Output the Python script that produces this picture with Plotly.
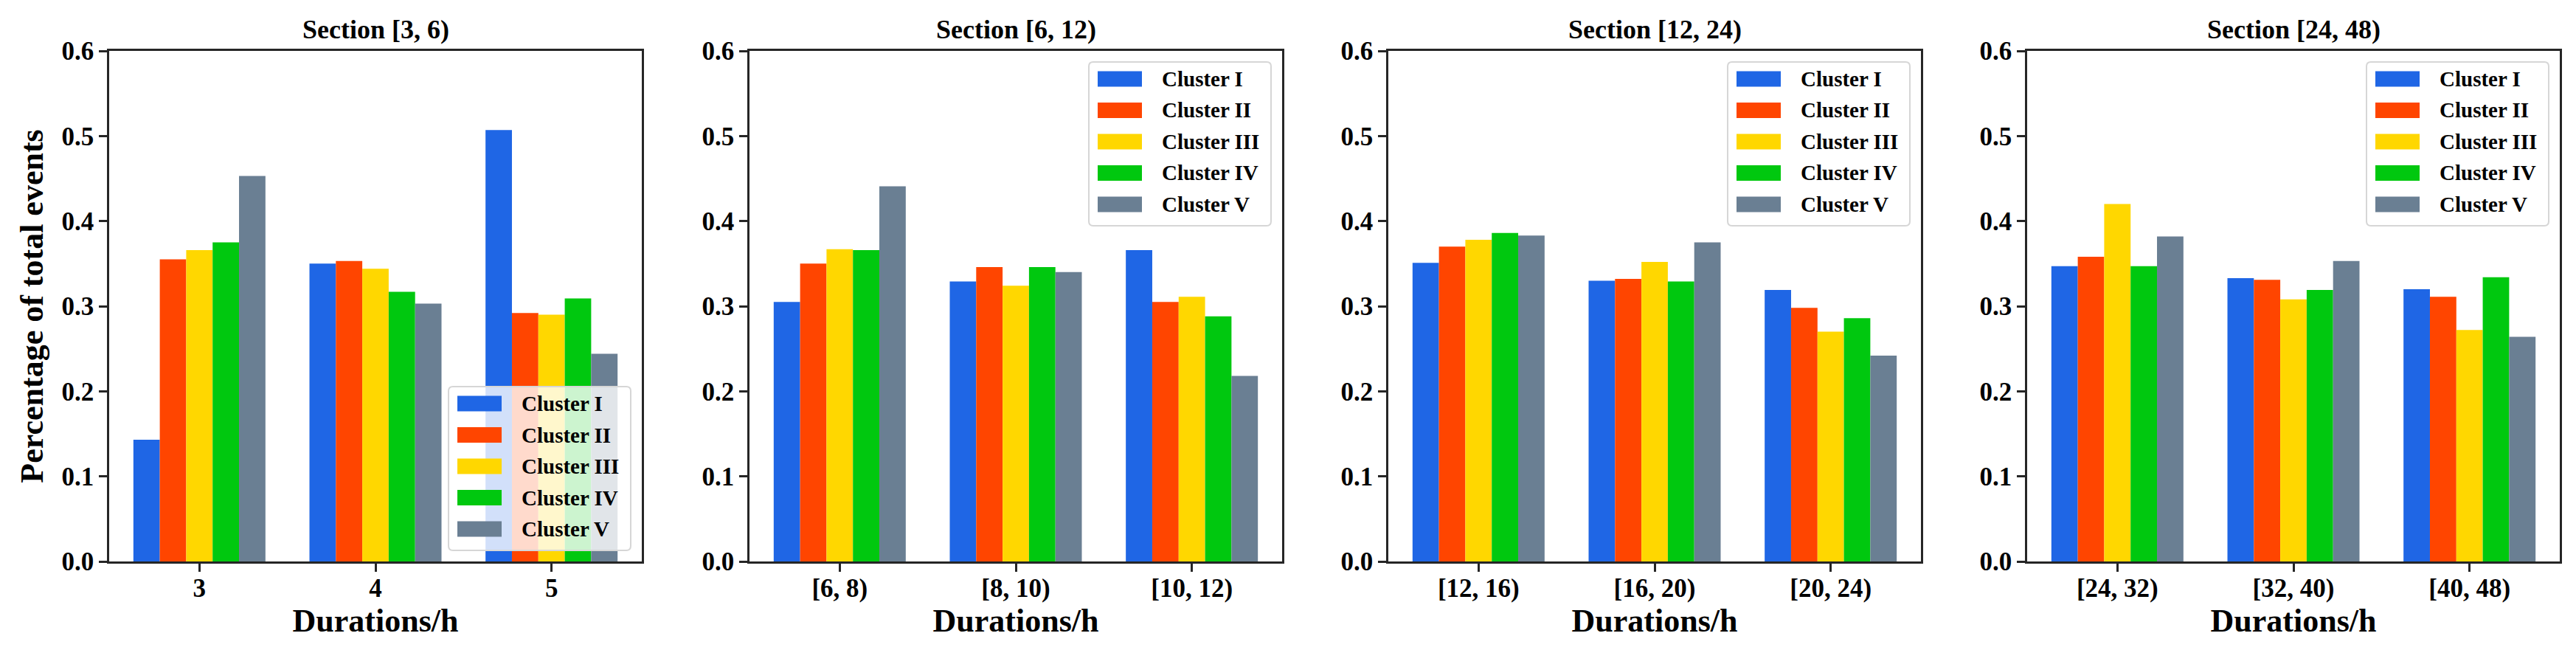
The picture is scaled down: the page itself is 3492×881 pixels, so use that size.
import plotly.graph_objects as go

# ---------------- data ----------------
clusters = ["Cluster I", "Cluster II", "Cluster III", "Cluster IV", "Cluster V"]
colors = ["#1F66E5", "#FF4500", "#FFD700", "#00C80F", "#6A7F93"]

section_titles = ["Section [3, 6)", "Section [6, 12)", "Section [12, 24)", "Section [24, 48)"]

cats_3_6 = ["3", "4", "5"]
cats_6_12 = ["[6, 8)", "[8, 10)", "[10, 12)"]
cats_12_24 = ["[12, 16)", "[16, 20)", "[20, 24)"]
cats_24_48 = ["[24, 32)", "[32, 40)", "[40, 48)"]

# rows: Cluster I..V, columns: categories
vals_3_6 = [
    [0.143, 0.350, 0.507],
    [0.355, 0.353, 0.292],
    [0.366, 0.344, 0.290],
    [0.375, 0.317, 0.309],
    [0.453, 0.303, 0.244],
]
vals_6_12 = [
    [0.305, 0.329, 0.366],
    [0.350, 0.346, 0.305],
    [0.367, 0.324, 0.311],
    [0.366, 0.346, 0.288],
    [0.441, 0.340, 0.218],
]
vals_12_24 = [
    [0.351, 0.330, 0.319],
    [0.370, 0.332, 0.298],
    [0.378, 0.352, 0.270],
    [0.386, 0.329, 0.286],
    [0.383, 0.375, 0.242],
]
vals_24_48 = [
    [0.347, 0.333, 0.320],
    [0.358, 0.331, 0.311],
    [0.420, 0.308, 0.272],
    [0.347, 0.319, 0.334],
    [0.382, 0.353, 0.264],
]

y_ticks = [0.0, 0.1, 0.2, 0.3, 0.4, 0.5, 0.6]
x_label = "Durations/h"
y_label = "Percentage of total events"

# ---------------- layout geometry (window pixels) ----------------
WIN_W, WIN_H = 3492, 881
OFF_X, OFF_Y = 4, 8  # page offset of the plot div
W, H = WIN_W - 8, WIN_H - 8
panel_left = [144, 1012, 1878, 2744]
panel_w = 722
panel_top, panel_bottom = 69, 761
legend_pos = ["lower right", "upper right", "upper right", "upper right"]

FONT = "Liberation Serif, Times New Roman, serif"


def fx(px):
    return (px - OFF_X) / W


def fy(py):
    return 1 - (py - OFF_Y) / H


panels = [
    (cats_3_6, vals_3_6),
    (cats_6_12, vals_6_12),
    (cats_12_24, vals_12_24),
    (cats_24_48, vals_24_48),
]

fig = go.Figure()
layout = dict(
    width=W, height=H,
    margin=dict(l=0, r=0, t=0, b=0, autoexpand=False),
    paper_bgcolor="white", plot_bgcolor="white",
    barmode="group", bargap=0.25, bargroupgap=0.0,
    showlegend=False,
    font=dict(family=FONT, color="black"),
)

annotations = []
shapes = []

for i, (cats, vals) in enumerate(panels):
    sfx = "" if i == 0 else str(i + 1)
    for k, name in enumerate(clusters):
        fig.add_trace(go.Bar(
            x=cats, y=vals[k], name=name,
            marker=dict(color=colors[k], line=dict(width=0)),
            xaxis="x" + sfx, yaxis="y" + sfx,
            showlegend=False,
        ))
    x0 = fx(panel_left[i])
    x1 = fx(panel_left[i] + panel_w)
    axis_common = dict(
        showline=True, linecolor="#262626", linewidth=2.5, mirror=True,
        ticks="outside", ticklen=11, tickwidth=2.5, tickcolor="#262626",
        showgrid=False, zeroline=False, automargin=False,
        tickfont=dict(family=FONT, size=35, color="black", weight="bold"),
    )
    layout["xaxis" + sfx] = dict(
        domain=[x0, x1], anchor="y" + sfx, type="category",
        range=[-0.5125, 2.5125], ticklabelstandoff=-8,
        title=dict(text=x_label, standoff=0,
                   font=dict(family=FONT, size=44, color="black", weight="bold")),
        **axis_common,
    )
    ycfg = dict(
        domain=[fy(panel_bottom), fy(panel_top)], anchor="x" + sfx,
        range=[0, 0.6], tickvals=y_ticks, tickformat=".1f",
        **axis_common,
    )
    if i == 0:
        ycfg["title"] = dict(text=y_label, standoff=12,
                             font=dict(family=FONT, size=44, color="black", weight="bold"))
    layout["yaxis" + sfx] = ycfg

    # panel title
    annotations.append(dict(
        text=section_titles[i], xref="paper", yref="paper",
        x=fx(panel_left[i] + panel_w / 2), y=fy(40),
        xanchor="center", yanchor="middle", showarrow=False,
        font=dict(family=FONT, size=36, color="black", weight="bold"),
    ))

    # legend box (matplotlib-style)
    bw, bh = 247, 222
    right = panel_left[i] + panel_w - 15
    if legend_pos[i] == "lower right":
        top = panel_bottom - 15 - bh
    else:
        top = panel_top + 15
    left = right - bw
    bottom = top + bh
    r = 6
    path = (
        f"M {fx(left + r)},{fy(top)} L {fx(right - r)},{fy(top)} "
        f"Q {fx(right)},{fy(top)} {fx(right)},{fy(top + r)} "
        f"L {fx(right)},{fy(bottom - r)} "
        f"Q {fx(right)},{fy(bottom)} {fx(right - r)},{fy(bottom)} "
        f"L {fx(left + r)},{fy(bottom)} "
        f"Q {fx(left)},{fy(bottom)} {fx(left)},{fy(bottom - r)} "
        f"L {fx(left)},{fy(top + r)} "
        f"Q {fx(left)},{fy(top)} {fx(left + r)},{fy(top)} Z"
    )
    shapes.append(dict(type="path", path=path, xref="paper", yref="paper",
                       fillcolor="rgba(255,255,255,0.8)",
                       line=dict(color="#d6d6d6", width=2), layer="above"))
    for k, name in enumerate(clusters):
        cy = top + 23 + 42.5 * k
        shapes.append(dict(type="rect", xref="paper", yref="paper",
                           x0=fx(left + 12), x1=fx(left + 72),
                           y0=fy(cy - 10.5), y1=fy(cy + 10.5),
                           fillcolor=colors[k], line=dict(width=0), layer="above"))
        annotations.append(dict(
            text=name, xref="paper", yref="paper",
            x=fx(left + 97), y=fy(cy), xanchor="left", yanchor="middle",
            showarrow=False,
            font=dict(family=FONT, size=29, color="black", weight="bold"),
        ))

layout["annotations"] = annotations
layout["shapes"] = shapes
fig.update_layout(**layout)

fig.write_html("out.html")
